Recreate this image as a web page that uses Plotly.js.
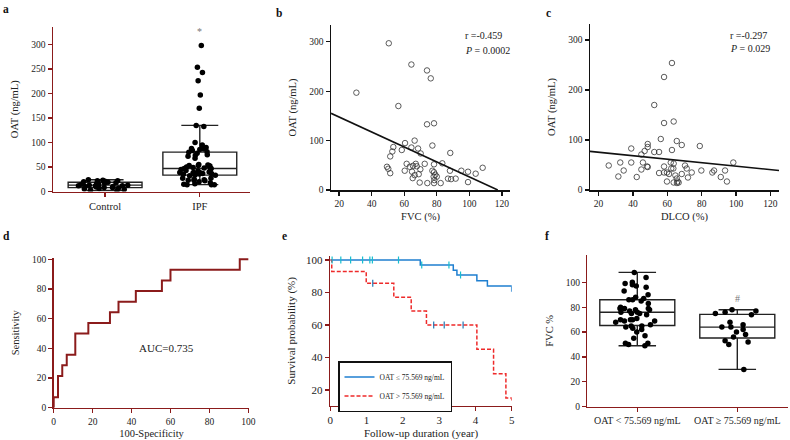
<!DOCTYPE html>
<html><head><meta charset="utf-8">
<script src="https://cdn.plot.ly/plotly-3.0.1.min.js"></script>
<style>html,body{margin:0;padding:0;background:#fff}#chart{width:790px;height:440px}</style>
</head><body><div id="chart"></div>
<script>
// ---------- Panel a: OAT by group ----------
const groupsA = ['Control', 'IPF'];
const oatControl = [2,3,4,5,6,7,8,8,9,10,10,11,12,12,13,13,14,15,16,17,18,19,19,20,21,22,22,23,24];
const oatIPF = [298,254,243,226,197,170,135,133,100,95,90,88,87,86,84,81,80,78,75,74,72,68,
  55,54,53,53,53,52,50,49,48,47,47,46,45,43,42,40,39,39,39,37,37,36,34,33,32,38,27,27,25,24,23,23,22,20,18,16,15,14,14,14,35,36];
// ---------- Panel b: FVC vs OAT ----------
const fvcB = [50.5,64.4,74.0,76.3,30.6,56.4,74.0,78.3,60.5,66.4,64.4,68.5,53.3,52.7,58.5,51.4,70.1,77.3,88.3,49.4,50.2,51.4,61.5,60.3,63.4,65.4,67.1,67.7,64.8,66.4,68.9,65.2,69.5,72.6,69.9,74.2,78.3,77.3,78.3,79.1,78.1,80.0,78.5,78.3,82.4,83.4,88.1,86.9,88.8,91.6,95.1,99.2,99.2,103.9,108.2];
const oatB = [297,254,242,226,197,170,133,135,95,100,86,84,87,78,81,68,74,90,75,47,43,34,53,39,47,49,53,48,37,30,32,24,15,53,42,14,52,39,36,31,27,27,20,14,14,54,39,23,22,23,39,37,16,33,45];
const fitB = {intercept: 178, slope: -1.515};
const statB = ['r =-0.459', '<i>P</i> = 0.0002'];
// ---------- Panel c: DLCO vs OAT ----------
const dlcoC = [62.7,58.1,52.4,58.1,63.7,56.2,65.5,68.4,62.7,78.9,39.0,48.6,48.6,46.8,52.4,55.2,44.9,25.9,32.6,34.6,31.5,39.0,42.2,44.9,45.8,48.2,48.6,55.2,58.1,58.1,59.8,61.0,59.8,62.0,62.3,63.5,63.7,63.7,64.7,65.5,66.0,66.6,65.6,68.4,70.3,71.3,72.0,74.2,79.8,86.2,87.2,91.1,93.6,94.7,98.4];
const oatC = [254,226,170,134,137,102,98,90,80,88,83,92,86,78,76,76,71,49,55,39,27,55,26,41,55,47,46,34,47,35,35,32,17,55,43,43,53,15,29,23,17,15,14,32,49,43,25,35,39,35,39,26,39,17,55];
const fitC = {intercept: 82.5, slope: -0.348};
const statC = ['r =-0.297', '<i>P</i> = 0.029'];
// ---------- Panel d: ROC ----------
const rocFPR = [0,0,2.2,4.4,6.7,11.1,17.8,28.9,33.3,42.2,55.6,60,95.6,100];
const rocSens = [0,7.1,21.4,28.6,35.7,50,57.1,64.3,71.4,78.6,85.7,92.9,100,100];
const aucText = 'AUC=0.735';
// ---------- Panel e: Kaplan-Meier ----------
const kmNames = ['OAT ≤ 75.569 ng/mL', 'OAT > 75.569 ng/mL'];
const kmLowT = [0,2.48,3.39,3.49,4.04,4.33,5.0];
const kmLowS = [100,96.9,93.8,90.8,87.3,84.0,80.5];
const kmHighT = [0,0.04,0.99,1.75,2.23,2.65,4.04,4.5,4.84,5.0];
const kmHighS = [100,92.9,85.7,77.1,68.6,60.0,45.0,30.0,15.0,13.5];
const censLowT = [0.05,0.29,0.56,0.89,1.09,1.16,1.88,2.52,3.27,3.59];
const censLowS = [100,100,100,100,100,100,100,96.9,96.9,90.8];
const censHighT = [1.17,2.85,3.14,3.66];
const censHighS = [85.7,60,60,60];
// ---------- Panel f: FVC by OAT group ----------
const groupsF = ['OAT < 75.569 ng/mL', 'OAT ≥ 75.569 ng/mL'];
const fvcLow = [108,104,100,99,98,97,96,93,90,88,87,86,86,85,83,80,79,79,79,78,78,75,76,77,76,75,74,71,70,70,70,69,69,68,66,65,65,64,63,62,60,57,55,51,51,50,49];
const fvcHigh = [78,77,76,75,74,68,66,64,64,62,60,58,56,53,52,50,30];

// ---------- styling / layout helpers ----------
const W = 790, H = 440;
const RED = '#8b1b1b';
const FONT = 'Liberation Serif, Times New Roman, serif';
const px = x => x / W;
const py = y => 1 - y / H;

function axis(o) {
  return Object.assign({
    showline: true, linewidth: 1.5, ticks: 'outside', ticklen: 4, tickwidth: 1.3,
    showgrid: false, zeroline: false, fixedrange: true,
    tickfont: {family: FONT, size: 9.5, color: '#222'},
    linecolor: '#111', tickcolor: '#111'
  }, o);
}
function ttl(text, standoff, size) {
  return {text: text, standoff: standoff, font: {family: FONT, size: size || 10.5, color: '#222'}};
}

const traces = [];
// a
traces.push({type: 'box', name: groupsA[0], y: oatControl, xaxis: 'x', yaxis: 'y',
  boxpoints: 'all', jitter: 0.8, pointpos: 0, width: 0.78, whiskerwidth: 0.5,
  line: {color: '#222', width: 1.4}, fillcolor: 'rgba(0,0,0,0)',
  marker: {color: '#000', size: 5.5}, showlegend: false, hoverinfo: 'skip'});
traces.push({type: 'box', name: groupsA[1], y: oatIPF, xaxis: 'x', yaxis: 'y',
  boxpoints: 'all', jitter: 0.7, pointpos: 0, width: 0.78, whiskerwidth: 0.5,
  line: {color: '#222', width: 1.4}, fillcolor: 'rgba(0,0,0,0)',
  marker: {color: '#000', size: 5.5}, showlegend: false, hoverinfo: 'skip'});
// b
traces.push({type: 'scatter', mode: 'markers', x: fvcB, y: oatB, xaxis: 'x2', yaxis: 'y2',
  marker: {symbol: 'circle-open', size: 5.5, color: '#333', line: {width: 0.8}}, showlegend: false});
const bEnd = Math.min(125, -fitB.intercept / fitB.slope);
traces.push({type: 'scatter', mode: 'lines', x: [15, bEnd],
  y: [fitB.intercept + fitB.slope * 15, fitB.intercept + fitB.slope * bEnd], xaxis: 'x2', yaxis: 'y2',
  line: {color: '#111', width: 1.6}, showlegend: false});
// c
traces.push({type: 'scatter', mode: 'markers', x: dlcoC, y: oatC, xaxis: 'x3', yaxis: 'y3',
  marker: {symbol: 'circle-open', size: 5.5, color: '#333', line: {width: 0.8}}, showlegend: false});
traces.push({type: 'scatter', mode: 'lines', x: [15, 125],
  y: [fitC.intercept + fitC.slope * 15, fitC.intercept + fitC.slope * 125], xaxis: 'x3', yaxis: 'y3',
  line: {color: '#111', width: 1.6}, showlegend: false});
// d
traces.push({type: 'scatter', mode: 'lines', x: rocFPR, y: rocSens, xaxis: 'x4', yaxis: 'y4',
  line: {color: RED, width: 2, shape: 'hv'}, showlegend: false});
// e
traces.push({type: 'scatter', mode: 'lines', name: kmNames[0], x: kmLowT, y: kmLowS, xaxis: 'x5', yaxis: 'y5',
  line: {color: '#1f7fd0', width: 1.5, shape: 'hv'}, showlegend: true});
traces.push({type: 'scatter', mode: 'lines', name: kmNames[1], x: kmHighT, y: kmHighS, xaxis: 'x5', yaxis: 'y5',
  line: {color: '#ee2a2a', width: 1.5, shape: 'hv', dash: '4px,2px'}, showlegend: true});
traces.push({type: 'scatter', mode: 'markers', x: censLowT, y: censLowS, xaxis: 'x5', yaxis: 'y5',
  marker: {symbol: 'line-ns-open', size: 5, line: {color: '#1f7fd0', width: 1.2}}, showlegend: false});
traces.push({type: 'scatter', mode: 'markers', x: censHighT, y: censHighS, xaxis: 'x5', yaxis: 'y5',
  marker: {symbol: 'line-ns-open', size: 5, line: {color: '#ee2a2a', width: 1.2}}, showlegend: false});
// f
traces.push({type: 'box', name: groupsF[0], y: fvcLow, xaxis: 'x6', yaxis: 'y6',
  boxpoints: 'all', jitter: 0.7, pointpos: 0, width: 0.75, whiskerwidth: 0.5,
  line: {color: '#222', width: 1.4}, fillcolor: 'rgba(0,0,0,0)',
  marker: {color: '#000', size: 5.5}, showlegend: false, hoverinfo: 'skip'});
traces.push({type: 'box', name: groupsF[1], y: fvcHigh, xaxis: 'x6', yaxis: 'y6',
  boxpoints: 'all', jitter: 0.6, pointpos: 0, width: 0.75, whiskerwidth: 0.5,
  line: {color: '#222', width: 1.4}, fillcolor: 'rgba(0,0,0,0)',
  marker: {color: '#000', size: 5.5}, showlegend: false, hoverinfo: 'skip'});

const redAx = {linecolor: RED, tickcolor: RED};
const layout = {
  width: W, height: H, margin: {l: 0, r: 0, t: 0, b: 0},
  paper_bgcolor: '#fff', plot_bgcolor: 'rgba(0,0,0,0)',
  font: {family: FONT, color: '#222'},
  // a
  xaxis: axis(Object.assign({domain: [px(53), px(250)], anchor: 'y', type: 'category',
    range: [-0.55, 1.53], tickfont: {family: FONT, size: 10.5, color: '#222'}}, redAx)),
  yaxis: axis(Object.assign({domain: [py(191.5), py(27)], anchor: 'x', range: [0, 336],
    tickvals: [0,50,100,150,200,250,300], title: ttl('OAT (ng/mL)', 10)}, redAx)),
  // b
  xaxis2: axis({domain: [px(331), px(510)], anchor: 'y2', range: [15, 125],
    tickvals: [20,40,60,80,100,120], title: ttl('FVC (%)', 4)}),
  yaxis2: axis({domain: [py(190), py(25)], anchor: 'x2', range: [0, 334],
    tickvals: [0,100,200,300], title: ttl('OAT (ng/mL)', 10)}),
  // c
  xaxis3: axis({domain: [px(590), px(779)], anchor: 'y3', range: [15, 125],
    tickvals: [20,40,60,80,100,120], title: ttl('DLCO (%)', 4)}),
  yaxis3: axis({domain: [py(190), py(24)], anchor: 'x3', range: [0, 332],
    tickvals: [0,100,200,300], title: ttl('OAT (ng/mL)', 10)}),
  // d
  xaxis4: axis(Object.assign({domain: [px(53.7), px(249.3)], anchor: 'y4', range: [0, 100.5],
    tickvals: [0,20,40,60,80,100], title: ttl('100-Specificity', 4)}, redAx)),
  yaxis4: axis(Object.assign({domain: [py(407.7), py(257.8)], anchor: 'x4', range: [0, 101],
    tickvals: [0,20,40,60,80,100], title: ttl('Sensitivity', 10)}, redAx)),
  // e
  xaxis5: axis(Object.assign({domain: [px(330.3), px(511.7)], anchor: 'y5', range: [0, 5],
    tickvals: [0,1,2,3,4,5], tickfont: {family: FONT, size: 11, color: '#222'},
    title: ttl('Follow-up duration (year)', 4, 11)}, redAx)),
  yaxis5: axis(Object.assign({domain: [py(405.7), py(256)], anchor: 'x5', range: [10.3, 102.5],
    tickvals: [20,40,60,80,100], tickfont: {family: FONT, size: 11, color: '#222'},
    title: ttl('Survival probability (%)', 8, 11)}, redAx)),
  // f
  xaxis6: axis(Object.assign({domain: [px(587.3), px(788)], anchor: 'y6', type: 'category',
    range: [-0.5, 1.507], tickfont: {family: FONT, size: 10, color: '#222'}}, redAx)),
  yaxis6: axis(Object.assign({domain: [py(406.7), py(255)], anchor: 'x6', range: [0, 122],
    tickvals: [0,20,40,60,80,100], title: ttl('FVC %', 10)}, redAx)),
  showlegend: true,
  legend: {x: px(338), y: py(361), xanchor: 'left', yanchor: 'top',
    bgcolor: '#fff', bordercolor: '#111', borderwidth: 1.5,
    font: {family: FONT, size: 7.5, color: '#222'}, itemwidth: 30, tracegroupgap: 0},
  annotations: []
};

function note(text, x, y, opt) {
  layout.annotations.push(Object.assign({text: text, xref: 'paper', yref: 'paper',
    x: px(x), y: py(y), showarrow: false, xanchor: 'left', yanchor: 'middle',
    font: {family: FONT, size: 10, color: '#222'}}, opt || {}));
}
const labels = [['a', 0.5, 9], ['b', 273.5, 13], ['c', 543.5, 13], ['d', 0.5, 236], ['e', 280, 235.5], ['f', 543, 236]];
labels.forEach(l => note('<b>' + l[0] + '</b>', l[1], l[2], {font: {family: FONT, size: 11.5, color: '#111'}}));
note(statB[0], 463, 36); note(statB[1], 463, 50);
note(statC[0], 728, 36); note(statC[1], 728, 49);
layout.annotations.push({text: aucText, xref: 'x4', yref: 'y4', x: 58, y: 40, showarrow: false,
  font: {family: FONT, size: 11, color: '#222'}});
layout.annotations.push({text: '*', xref: 'x', yref: 'y', x: groupsA[1], y: 326, showarrow: false,
  font: {family: FONT, size: 10, color: '#777'}});
layout.annotations.push({text: '#', xref: 'x6', yref: 'y6', x: groupsF[1], y: 87, showarrow: false,
  font: {family: FONT, size: 10, color: '#777'}});

Plotly.newPlot('chart', traces, layout, {staticPlot: true, displayModeBar: false});
</script></body></html>
